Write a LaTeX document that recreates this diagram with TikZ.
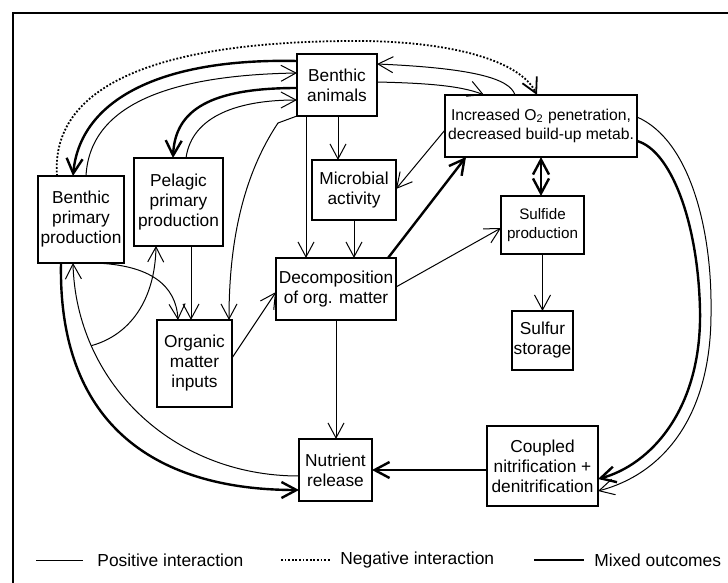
\documentclass[tikz,border=0pt]{standalone}
\usepackage{fontspec}
\setmainfont{Liberation Sans}
\usetikzlibrary{arrows.meta, calc}

\begin{document}
\begin{tikzpicture}[x=0.5pt, y=-0.5pt,
  barb/.tip={Straight Barb[length=7.5pt, width=8pt]},
  box/.style={draw, line width=0.6pt, align=center, inner sep=0pt, outer sep=0pt,
    font=\fontsize{8.65}{10}\selectfont},
  posedge/.style={line width=0.5pt, -barb},
  mixedge/.style={line width=1.2pt, -barb},
  negedge/.style={line width=0.9pt, dash pattern=on 0.9pt off 0.9pt, -barb},
  legend/.style={font=\fontsize{8.7}{10}\selectfont, anchor=west, inner sep=0pt}]
  \useasboundingbox (0,0) rectangle (728,583);
  \draw[line width=1pt] (13,583) -- (13,13) -- (728,13);

  \node[box, minimum width=40pt, minimum height=31pt] (ba) at (337,85) {Benthic\\animals};
  \node[box, minimum width=96pt, minimum height=31pt, font=\fontsize{7.85}{9.5}\selectfont]
    (o2) at (541,126) {Increased O\textsubscript{2} penetration,\\decreased build-up metab.};
  \node[box, minimum width=43pt, minimum height=43.5pt] (bpp) at (81,219.5) {Benthic\\primary\\production};
  \node[box, minimum width=44.5pt, minimum height=44pt] (ppp) at (178.5,202) {Pelagic\\primary\\production};
  \node[box, minimum width=42pt, minimum height=30pt] (mic) at (354,190) {Microbial\\activity};
  \node[box, minimum width=60pt, minimum height=31pt] (dec) at (336,289) {Decomposition\\of org. matter};
  \node[box, minimum width=41.5pt, minimum height=29pt, font=\fontsize{7.6}{9.2}\selectfont]
    (sul) at (542.5,225) {Sulfide\\production};
  \node[box, minimum width=30.5pt, minimum height=29.5pt] (sst) at (542.5,340.5) {Sulfur\\storage};
  \node[box, minimum width=37.5pt, minimum height=43.5pt] (omi) at (194.5,363.5) {Organic\\matter\\inputs};
  \node[box, minimum width=36.5pt, minimum height=31pt] (nut) at (335.5,470) {Nutrient\\release};
  \node[box, minimum width=55.5pt, minimum height=40pt] (cnd) at (542.5,466) {Coupled\\nitrification +\\denitrification};

  \draw[negedge] ($(bpp.north west)+(19,0)$) .. controls (50,80) and (170,40) .. (364,41)
    .. controls (450,42) and (520,60) .. ($(o2.north)+(-4,0)$);
  \draw[mixedge] ($(ba.north west)+(0,7)$) .. controls (160,58) and (80,100) .. ($(bpp.north)+(-8,0)$);
  \draw[posedge] ($(bpp.north)+(5,0)$) .. controls (90,100) and (180,75) .. ($(ba.north west)+(0,19)$);
  \draw[mixedge] ($(ba.north west)+(0,34)$) .. controls (210,88) and (175,110) .. ($(ppp.north)+(-5.5,0)$);
  \draw[posedge] ($(ppp.north)+(7.5,0)$) .. controls (192,115) and (240,100) .. ($(ba.north west)+(0,46)$);
  \draw[posedge] (ba.south west) -- (278,123) .. controls (240,180) and (229,250) .. ($(omi.north east)+(-3,0)$);
  \draw[posedge] ($(ba.south west)+(9,0)$) -- ($(dec.north west)+(30,0)$);
  \draw[posedge] ($(ba.south)+(1,0)$) -- ($(mic.north west)+(26,0)$);
  \draw[posedge] (mic.south) -- (mic.south |- dec.north);
  \draw[posedge] ($(o2.west)+(0,4)$) -- ($(mic.east)+(0,-1)$);
  \draw[mixedge] ($(dec.north east)+(-8,0)$) -- ($(o2.south west)+(21,0)$);
  \draw[mixedge, barb-barb] (o2.south) -- (o2.south |- sul.north);
  \draw[posedge] ($(dec.east)+(0,-2)$) -- ($(sul.west)+(0,3)$);
  \draw[posedge] (sul.south) -- (sst.north);
  \draw[posedge] (dec.south) -- (dec.south |- nut.north);
  \draw[mixedge] (nut.east -| cnd.west) -- (nut.east);
  \draw[posedge] ($(ba.east)+(0,-3)$) .. controls (420,83) and (460,85) .. ($(o2.north west)+(39,0)$);
  \draw[posedge] ($(o2.north west)+(70,0)$) .. controls (510,78) and (470,68) .. ($(ba.north east)+(0,10)$);
  \draw[posedge] ($(o2.north east)+(0,22)$) .. controls (690,140) and (712,230) .. (711,310)
    .. controls (712,420) and (660,475) .. ($(cnd.east)+(0,25)$);
  \draw[mixedge] ($(o2.north east)+(0,46)$) .. controls (670,150) and (698,220) .. (700,310)
    .. controls (702,410) and (650,465) .. ($(cnd.east)+(0,13)$);
  \draw[posedge] ($(nut.west)+(0,6)$) .. controls (170,476) and (76,380) .. ($(bpp.south)+(-8,0)$)
    coordinate[pos=0.75] (fork);
  \draw[mixedge] ($(bpp.south west)+(23,0)$) .. controls (58,420) and (150,490) .. ($(nut.west)+(0,20)$);
  \draw[posedge] ($(bpp.south east)+(-29,0)$) .. controls (150,265) and (176,285) .. ($(omi.north west)+(21,0)$);
  \draw[posedge] (fork) .. controls (130,335) and (155,300) .. ($(ppp.south west)+(22,0)$);
  \draw[posedge] ($(ppp.south)+(12.5,0)$) -- ($(omi.north)+(-3.5,0)$);
  \draw[posedge] ($(omi.east)+(0,-5.5)$) -- ($(dec.west)+(0,3)$);

  \node[legend] (lpos) at (97,560) {Positive interaction};
  \node[legend] (lneg) at (340,560) {Negative interaction};
  \node[legend] (lmix) at (594,560) {Mixed outcomes};
  \draw[line width=0.5pt] ($(lpos.west)+(-61,0)$) -- ($(lpos.west)+(-14,0)$);
  \draw[line width=0.9pt, dash pattern=on 0.9pt off 0.9pt] ($(lneg.west)+(-59,0)$) -- ($(lneg.west)+(-10,0)$);
  \draw[line width=1.2pt] ($(lmix.west)+(-60,0)$) -- ($(lmix.west)+(-10,0)$);
\end{tikzpicture}
\end{document}
